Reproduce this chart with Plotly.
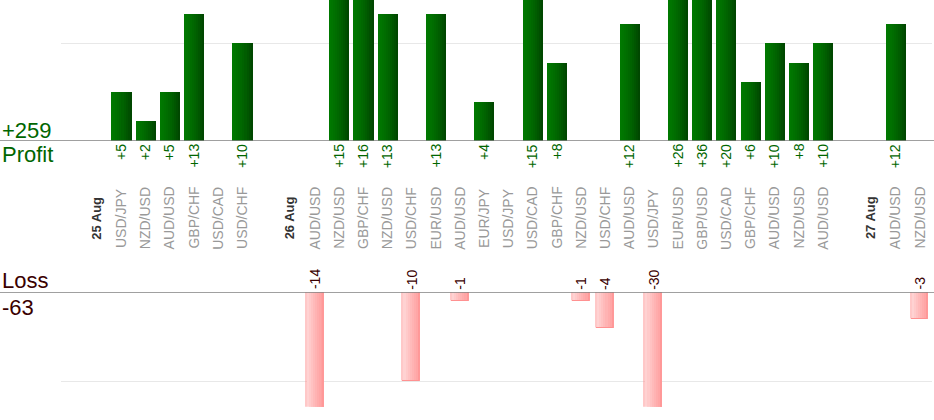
import plotly.graph_objects as go

W, H = 934, 420

categories = ["", "25 Aug", "USD/JPY", "NZD/USD", "AUD/USD", "GBP/CHF", "USD/CAD", "USD/CHF",
              "", "26 Aug", "AUD/USD", "NZD/USD", "GBP/CHF", "NZD/USD", "USD/CHF", "EUR/USD",
              "AUD/USD", "EUR/JPY", "USD/JPY", "USD/CAD", "GBP/CHF", "NZD/USD", "USD/CHF",
              "AUD/USD", "USD/JPY", "EUR/USD", "GBP/USD", "USD/CAD", "GBP/CHF", "AUD/USD",
              "NZD/USD", "AUD/USD", "", "27 Aug", "AUD/USD", "NZD/USD"]
profit = [None, None, 5, 2, 5, 13, None, 10,
          None, None, None, 15, 16, 13, None, 13,
          None, 4, None, 15, 8, None, None,
          12, None, 26, 36, 20, 6, 10,
          8, 10, None, None, 12, None]
loss = [None, None, None, None, None, None, None, None,
        None, None, -14, None, None, None, -10, None,
        -1, None, None, None, None, -1, -4,
        None, -30, None, None, None, None, None,
        None, None, None, None, None, -3]
total_profit_label = "+259"
total_loss_label = "-63"

FONT = "Liberation Sans, Arial, sans-serif"
GREEN_TXT = "#006600"
LOSS_TXT = "#3a0000"

x = list(range(len(categories)))

def py(pix):
    return (H - pix) / H

fig = go.Figure()

# profit bars: gradient via overlapping stripes
green_stops = ["#007800", "#007500", "#007100", "#006d00", "#006800",
               "#006300", "#005d00", "#005600", "#004f00", "#004700"]
gw = 0.83
n = len(green_stops)
for k, c in enumerate(green_stops):
    fig.add_trace(go.Bar(x=x, y=profit, xaxis="x", yaxis="y",
                         offset=-gw / 2 + k * gw / n, width=gw - k * gw / n,
                         marker=dict(color=c, line=dict(width=0)),
                         showlegend=False, hoverinfo="skip"))

pink_stops = ["#ffd2d2", "#ffcaca", "#ffc2c2", "#ffbaba", "#ffb3b3",
              "#ffacac", "#ffa6a6", "#ffa0a0"]
pw = 0.70
n = len(pink_stops)
for k, c in enumerate(pink_stops):
    fig.add_trace(go.Bar(x=x, y=loss, xaxis="x2", yaxis="y2",
                         offset=-pw / 2 + k * pw / n, width=pw - k * pw / n,
                         marker=dict(color=c, line=dict(width=0)),
                         showlegend=False, hoverinfo="skip"))
fig.add_trace(go.Bar(x=x, y=loss, xaxis="x2", yaxis="y2",
                     offset=-pw / 2, width=pw,
                     marker=dict(color="rgba(0,0,0,0)", line=dict(width=1, color="#ff9191")),
                     showlegend=False, hoverinfo="skip"))

annotations = []
for i, (cat, p, l) in enumerate(zip(categories, profit, loss)):
    if cat:
        is_date = cat.endswith("Aug")
        annotations.append(dict(
            x=i, xref="x", y=py(218), yref="paper", text=f"<b>{cat}</b>" if is_date else cat,
            textangle=-90, showarrow=False, xanchor="center", yanchor="middle",
            font=dict(family=FONT, size=13 if is_date else 14,
                      color="#333333" if is_date else "#999999")))
    if p is not None:
        annotations.append(dict(
            x=i, xref="x", y=py(143), yref="paper", text=f"+{p}",
            textangle=-90, showarrow=False, xanchor="center", yanchor="top", borderpad=0,
            font=dict(family=FONT, size=14, color=GREEN_TXT)))
    if l is not None:
        annotations.append(dict(
            x=i, xref="x2", y=py(290.5), yref="paper", text=f"{l}",
            textangle=-90, showarrow=False, xanchor="center", yanchor="bottom", borderpad=0,
            font=dict(family=FONT, size=14, color=LOSS_TXT)))

side_labels = [
    (total_profit_label, 130.5, GREEN_TXT),
    ("Profit", 154.5, GREEN_TXT),
    ("Loss", 280, LOSS_TXT),
    (total_loss_label, 307, LOSS_TXT),
]
for txt, ypix, col in side_labels:
    annotations.append(dict(
        x=1 / W, xref="paper", y=py(ypix), yref="paper", text=txt, showarrow=False,
        xanchor="left", yanchor="middle", borderpad=0,
        font=dict(family=FONT, size=22, color=col)))

xdom = [60.5 / W, 931.6 / W]
xcommon = dict(domain=xdom, range=[-0.5, len(categories) - 0.5], showgrid=False,
               zeroline=False, showticklabels=False, ticks="", showline=False, fixedrange=True)

fig.update_layout(
    width=W, height=H, margin=dict(l=0, r=0, t=0, b=0),
    paper_bgcolor="white", plot_bgcolor="white",
    barmode="overlay", bargap=0,
    xaxis=dict(**xcommon, anchor="y"),
    xaxis2=dict(**xcommon, anchor="y2"),
    yaxis=dict(domain=[py(141), 1], range=[0, 14.4], tickvals=[10], showticklabels=False,
               showgrid=True, gridcolor="#e8e8e8", gridwidth=1, zeroline=False,
               anchor="x"),
    yaxis2=dict(domain=[py(406.7), py(292)], range=[-12.87, 0], tickvals=[-10],
                showticklabels=False, showgrid=True, gridcolor="#e8e8e8", gridwidth=1,
                zeroline=False, anchor="x2"),
    annotations=annotations,
    shapes=[
        dict(type="line", xref="paper", x0=0, x1=1, yref="y", y0=0, y1=0,
             line=dict(color="#808080", width=1.3), layer="above"),
        dict(type="line", xref="paper", x0=0, x1=1, yref="y2", y0=0, y1=0,
             line=dict(color="#808080", width=1.3), layer="above"),
    ],
    showlegend=False,
)

fig.write_html("out.html", config={"displayModeBar": False},
               post_script="document.body.style.margin='0px';document.body.style.overflow='hidden';")
